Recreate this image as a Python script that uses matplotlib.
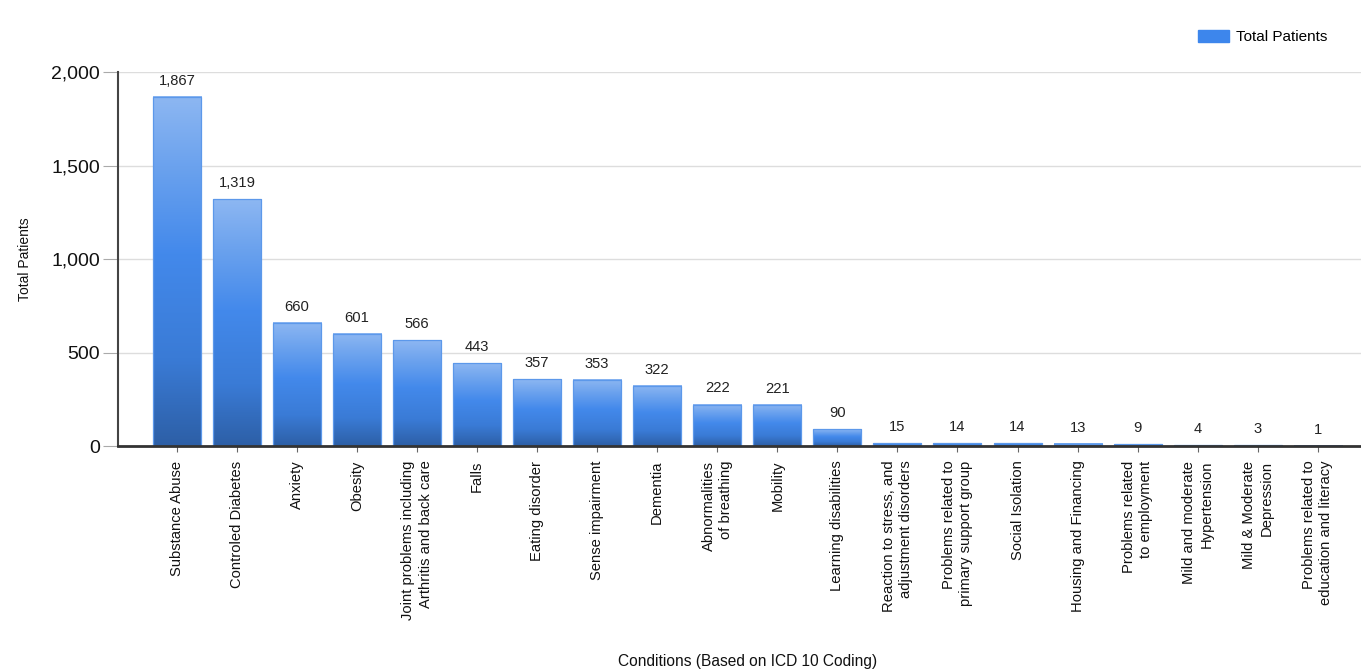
import numpy as np
import matplotlib.pyplot as plt
from matplotlib.colors import LinearSegmentedColormap
from matplotlib.patches import Rectangle
from matplotlib.ticker import FuncFormatter

plt.rcParams['font.family'] = ['Liberation Sans', 'DejaVu Sans']

conditions = [
    'Substance Abuse', 'Controled Diabetes', 'Anxiety', 'Obesity',
    'Joint problems including\nArthritis and back care', 'Falls',
    'Eating disorder', 'Sense impairment', 'Dementia',
    'Abnormalities\nof breathing', 'Mobility', 'Learning disabilities',
    'Reaction to stress, and\nadjustment disorders',
    'Problems related to\nprimary support group', 'Social Isolation',
    'Housing and Financing', 'Problems related\nto employment',
    'Mild and moderate\nHypertension', 'Mild & Moderate\nDepression',
    'Problems related to\neducation and literacy',
]
patients = [1867, 1319, 660, 601, 566, 443, 357, 353, 322, 222,
            221, 90, 15, 14, 14, 13, 9, 4, 3, 1]

# light top -> bright middle -> darker bottom
bar_cmap = LinearSegmentedColormap.from_list(
    'bar_grad', [(0.0, '#2d5fa6'), (0.25, '#3a7bd6'), (0.55, '#4389eb'),
                 (0.8, '#6ba2ee'), (1.0, '#8db7f2')])
gradient = np.linspace(0, 1, 256).reshape(-1, 1)

fig = plt.figure(figsize=(13.61, 6.70), dpi=100)
ax = fig.add_axes([0.0867, 0.3343, 0.9133, 0.5582])

x = np.arange(len(patients))
width = 0.8
for xi, val in zip(x, patients):
    ax.imshow(gradient, cmap=bar_cmap, origin='lower', aspect='auto',
              extent=(xi - width / 2, xi + width / 2, 0, val), zorder=2)
    ax.add_patch(Rectangle((xi - width / 2, 0), width, val, fill=False,
                           edgecolor='#5c98ea', linewidth=0.9, zorder=3))
    ax.annotate(f'{val:,}', (xi, val), xytext=(0, 6.5), textcoords='offset points',
                ha='center', va='bottom', fontsize=10.6, color='#222222')

ax.set_xlim(-0.98, len(patients) - 0.28)
ax.set_ylim(0, 2000)
ax.set_yticks([0, 500, 1000, 1500, 2000])
ax.yaxis.set_major_formatter(FuncFormatter(lambda v, p: f'{int(v):,}'))
ax.tick_params(axis='y', labelsize=14, length=11, width=0.8, color='#aaaaaa',
               pad=2, labelcolor='#111111')
ax.grid(axis='y', color='#dddddd', linewidth=1, zorder=0)
ax.set_axisbelow(True)

ax.set_xticks(x)
ax.set_xticklabels(conditions, rotation=90, ha='center', va='top',
                   multialignment='right', fontsize=10.6, color='#111111',
                   linespacing=1.3)
ax.tick_params(axis='x', length=4, width=0.8, color='#666666', pad=6.5)

for side in ['top', 'right']:
    ax.spines[side].set_visible(False)
ax.spines['left'].set_color('#444444')
ax.spines['left'].set_linewidth(1.5)
ax.spines['bottom'].set_color('#333333')
ax.spines['bottom'].set_linewidth(2)
ax.spines['bottom'].set_zorder(4)

ax.set_ylabel('Total Patients', fontsize=10, labelpad=14, color='#111111')
fig.text(0.549, 0.013, 'Conditions (Based on ICD 10 Coding)', ha='center',
         va='center', fontsize=11.2, color='#111111')

ax.legend(handles=[Rectangle((0, 0), 1, 1, facecolor='#3d86ec', edgecolor='#3d86ec')],
          labels=['Total Patients'], loc='upper right', frameon=False,
          bbox_to_anchor=(0.983, 1.145), fontsize=11, handlelength=2.0,
          handleheight=0.85, handletextpad=0.5, borderpad=0.3)

fig.savefig('out.png', dpi=100)
